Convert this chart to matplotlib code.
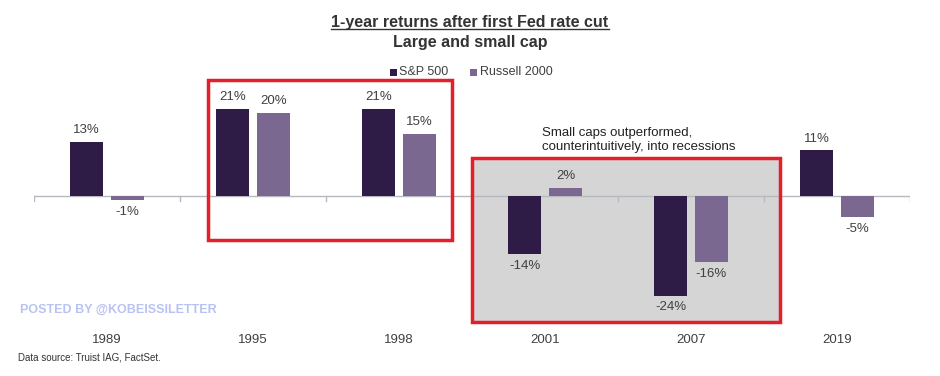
import matplotlib.pyplot as plt
import numpy as np
from matplotlib.patches import Rectangle
from matplotlib.lines import Line2D

plt.rcParams['font.family'] = ['Liberation Sans', 'DejaVu Sans']

years = ['1989', '1995', '1998', '2001', '2007', '2019']
sp500 = [13, 21, 21, -14, -24, 11]
russell = [-1, 20, 15, 2, -16, -5]

c_sp = '#2e1b46'
c_ru = '#7a6891'
c_txt = '#404040'

W, H = 940, 376
fig = plt.figure(figsize=(9.4, 3.76), dpi=100)
fig.patch.set_facecolor('white')

def fx(px):
    return px / W

def fy(py):
    return 1 - py / H

# axes spans pixel x 34..910, y 60..320
ax = fig.add_axes([fx(34), fy(320), fx(910 - 34), (320 - 60) / H])
ax.patch.set_visible(False)
ax.set_xlim(-0.5, len(years) - 0.5)
ax.set_ylim(-29.9, 32.8)

x = np.arange(len(years))
off = 0.14
bw = 0.226
ax.bar(x - off, sp500, bw, color=c_sp, zorder=3)
ax.bar(x + off, russell, bw, color=c_ru, zorder=3)

for xi, v in zip(x - off, sp500):
    ax.text(xi, v + (1.4 if v >= 0 else -1.4), f'{v}%', ha='center',
            va='bottom' if v >= 0 else 'top', fontsize=9.5, color=c_txt, zorder=4)
for xi, v in zip(x + off, russell):
    ax.text(xi, v + (1.4 if v >= 0 else -1.4), f'{v}%', ha='center',
            va='bottom' if v >= 0 else 'top', fontsize=9.5, color=c_txt, zorder=4)

# zero line with small ticks between groups
ax.axhline(0, color='#b8b8c0', lw=1, zorder=2)
for b in np.arange(-0.5, len(years), 1.0):
    ax.plot([b, b], [0, -1.1], color='#b8b8c0', lw=1, zorder=2)

ax.set_xticks(x)
ax.set_xticklabels(years, fontsize=9.5, color=c_txt)
ax.tick_params(axis='x', length=0, pad=10)
ax.set_yticks([])
for s in ax.spines.values():
    s.set_visible(False)

# shaded box and red highlight boxes (figure pixel coords)
fig.add_artist(Rectangle((fx(472), fy(322)), fx(780 - 472), (322 - 158) / H,
                         transform=fig.transFigure, facecolor='#d5d5d5',
                         edgecolor='none', zorder=-1))
for (x0, y0, x1, y1) in [(208, 80, 452, 240), (472, 158, 780, 322)]:
    fig.add_artist(Rectangle((fx(x0), fy(y1)), fx(x1 - x0), (y1 - y0) / H,
                             transform=fig.transFigure, facecolor='none',
                             edgecolor='#e3202a', lw=2.5, zorder=5))

fig.text(fx(542), fy(140), 'Small caps outperformed,\ncounterintuitively, into recessions',
         fontsize=9.5, color='#222222', va='center', ha='left', linespacing=1.25)

# title
t1 = fig.text(0.5, fy(22), '1-year returns after first Fed rate cut', ha='center',
              va='center', fontsize=11.5, fontweight='bold', color='#333333')
fig.text(0.5, fy(42), 'Large and small cap', ha='center', va='center',
         fontsize=11.5, fontweight='bold', color='#333333')
fig.canvas.draw()
bb = t1.get_window_extent().transformed(fig.transFigure.inverted())
fig.add_artist(Line2D([bb.x0, bb.x1], [bb.y0 + 0.002, bb.y0 + 0.002],
                      transform=fig.transFigure, color='#333333', lw=1))

# legend
for sx, tx, col, lab in [(390, 399, c_sp, 'S&P 500'), (470, 480, c_ru, 'Russell 2000')]:
    fig.add_artist(Rectangle((fx(sx), fy(76)), fx(7), 7 / H, transform=fig.transFigure,
                             facecolor=col, edgecolor='none'))
    fig.text(fx(tx), fy(72), lab, fontsize=9, color=c_txt, ha='left', va='center')

fig.text(fx(20), fy(310), 'POSTED BY @KOBEISSILETTER', fontsize=9, fontweight='bold',
         color='#b9c3f2', va='center')
fig.text(fx(18), fy(357), 'Data source: Truist IAG, FactSet.', fontsize=7,
         color='#333333', va='center')

fig.savefig('out.png', dpi=100)
